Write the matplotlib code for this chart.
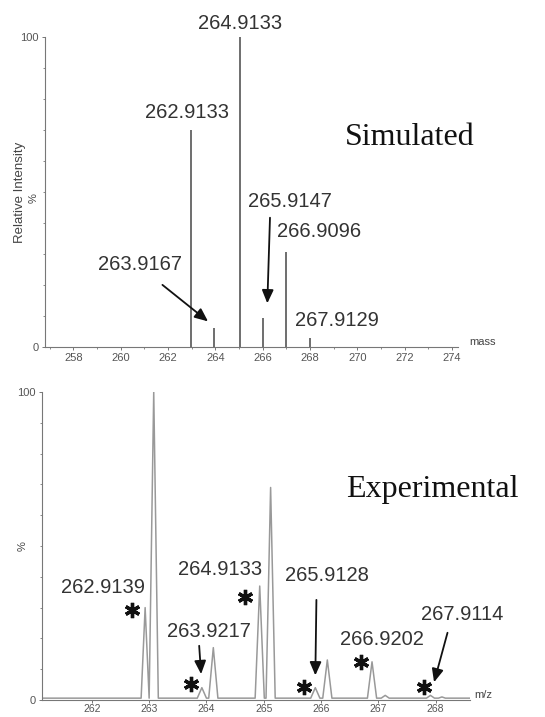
import numpy as np
import matplotlib
matplotlib.use("Agg")
import matplotlib.pyplot as plt

# Simulated isotope pattern (stick spectrum)
sim_mass = [262.97, 263.95, 265.02, 266.0, 267.0, 268.0]
sim_int = [70, 6, 100, 9.4, 30.6, 3]

# Experimental profile: peak centres, heights, base half-widths
exp_mz = [262.93, 263.08, 263.92, 264.12, 264.93, 265.12, 265.90, 266.11, 266.89, 267.12, 267.91, 268.11]
exp_int = [30, 100, 4, 17, 37, 69, 4, 13, 12.4, 1.5, 1.5, 1.0]
exp_hw = [0.07, 0.08, 0.08, 0.08, 0.08, 0.08, 0.08, 0.08, 0.08, 0.07, 0.07, 0.06]
baseline = 0.6

sim_labels = ["264.9133", "262.9133", "265.9147", "266.9096", "263.9167", "267.9129"]
sim_label_pos = [(265.05, 104.2), (262.81, 75.8), (267.16, 46.8), (268.38, 37.1), (260.83, 26.5), (269.14, 8.4)]
sim_arrows = [((261.67, 20.6), (263.78, 7.7)), ((266.31, 42.6), (266.19, 13.2))]

exp_labels = ["262.9139", "264.9133", "263.9217", "265.9128", "266.9202", "267.9114"]
exp_label_pos = [(262.19, 36.4), (264.24, 42.5), (264.05, 22.1), (266.11, 40.3), (267.07, 19.8), (268.47, 27.9)]
exp_stars = [(262.70, 29.2), (264.67, 33.4), (263.73, 5.2), (265.71, 4.2), (266.69, 12.3), (267.79, 4.2)]
exp_arrows = [((263.87, 18.5), (263.91, 7.5)), ((265.92, 33.4), (265.90, 7.1)), ((268.22, 22.7), (267.96, 4.9))]

label_font = "Liberation Sans"
title_font = "Liberation Serif"
axis_col = "#777777"
tick_col = "#555555"

fig = plt.figure(figsize=(5.45, 7.17), dpi=100)

def style_axes(ax):
    for s in ["top", "right"]:
        ax.spines[s].set_visible(False)
    for s in ["left", "bottom"]:
        ax.spines[s].set_color(axis_col)
        ax.spines[s].set_linewidth(0.8)
    ax.tick_params(colors=axis_col, labelcolor=tick_col, labelsize=8, length=2.5, width=0.7, pad=2)
    ax.tick_params(which="minor", colors=axis_col, length=1.5, width=0.6)
    for lab in ax.get_xticklabels() + ax.get_yticklabels():
        lab.set_family(label_font)

# ---- top panel: simulated ----
ax1 = fig.add_axes([45 / 545, 1 - 347 / 717, 413 / 545, 310 / 717])
ax1.vlines(sim_mass, 0, sim_int, color="#555555", lw=1.2)
ax1.set_xlim(256.8, 274.25)
ax1.set_ylim(0, 100)
ax1.set_xticks(np.arange(258, 275, 2))
ax1.set_xticks(np.arange(257, 275, 1), minor=True)
ax1.set_yticks([0, 100])
ax1.set_yticks(np.arange(0, 101, 10), minor=True)
style_axes(ax1)
ax1.text(-0.06, 0.5, "Relative Intensity", rotation=90, transform=ax1.transAxes,
         ha="center", va="center", fontsize=9.5, color="#444444", family=label_font)
ax1.text(-0.028, 0.48, "%", rotation=90, transform=ax1.transAxes,
         ha="center", va="center", fontsize=8, color="#444444", family=label_font)
ax1.text(275.3, 1.5, "mass", fontsize=8, color="#444444", family=label_font, ha="center", va="center")
for lab, (x, y) in zip(sim_labels, sim_label_pos):
    ax1.text(x, y, lab, fontsize=14.5, color="#333333", family=label_font,
             ha="center", va="center", clip_on=False)
for (x0, y0), (x1, y1) in sim_arrows:
    ax1.annotate("", xy=(x1, y1), xytext=(x0, y0),
                 arrowprops=dict(arrowstyle="-|>,head_length=0.8,head_width=0.35", color="#111111", lw=1.3))
ax1.text(272.22, 67.7, "Simulated", fontsize=23, family=title_font, color="#111111",
         ha="center", va="center")

# ---- bottom panel: experimental ----
ax2 = fig.add_axes([42 / 545, 1 - 700 / 717, 428 / 545, 308 / 717])
px, py = [261.13], [baseline]
for c, h, w in zip(exp_mz, exp_int, exp_hw):
    px += [c - w, c, c + w]
    py += [baseline, h, baseline]
px.append(268.6)
py.append(baseline)
ax2.plot(px, py, color="#999999", lw=1.1)
ax2.set_xlim(261.13, 268.6)
ax2.set_ylim(0, 100)
ax2.set_xticks(np.arange(262, 269, 1))
ax2.set_yticks([0, 100])
ax2.set_yticks(np.arange(0, 101, 10), minor=True)
style_axes(ax2)
ax2.tick_params(axis="x", labelsize=7.5, pad=1, length=2)
ax2.text(-0.045, 0.5, "%", rotation=90, transform=ax2.transAxes,
         ha="center", va="center", fontsize=8, color="#444444", family=label_font)
ax2.text(268.84, 1.6, "m/z", fontsize=8, color="#444444", family=label_font, ha="center", va="center",
         clip_on=False)
for lab, (x, y) in zip(exp_labels, exp_label_pos):
    ax2.text(x, y, lab, fontsize=14.5, color="#333333", family=label_font,
             ha="center", va="center", clip_on=False)
for x, y in exp_stars:
    ax2.plot([x], [y], marker=(6, 2, 0), markersize=11, mew=2.4, color="#111111", clip_on=False)
for (x0, y0), (x1, y1) in exp_arrows:
    ax2.annotate("", xy=(x1, y1), xytext=(x0, y0),
                 arrowprops=dict(arrowstyle="-|>,head_length=0.8,head_width=0.35", color="#111111", lw=1.3))
ax2.text(267.94, 68.2, "Experimental", fontsize=23, family=title_font, color="#111111",
         ha="center", va="center", clip_on=False)

fig.savefig("out.png", dpi=100)
